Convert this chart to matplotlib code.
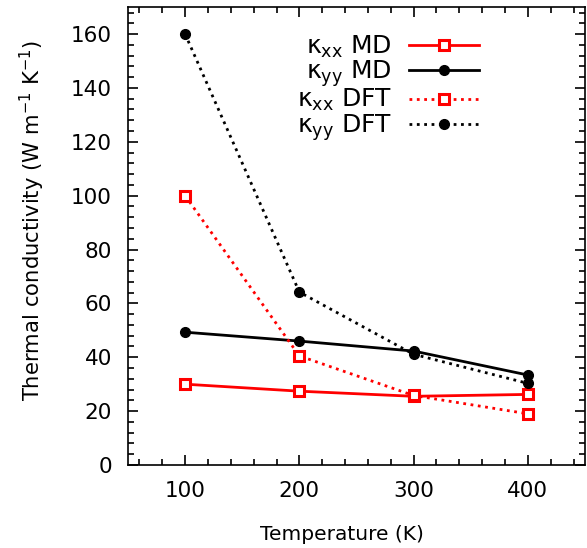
import matplotlib.pyplot as plt

plt.rcParams['font.family'] = 'DejaVu Sans'
plt.rcParams['font.size'] = 15.5

# data
temps = [100, 200, 300, 400]
kxx_md = [30.0, 27.4, 25.5, 26.2]
kyy_md = [49.3, 46.0, 42.3, 33.4]
kxx_dft = [100.0, 40.5, 25.8, 19.0]
kyy_dft = [160.0, 64.2, 41.1, 30.3]

fig = plt.figure(figsize=(5.87, 5.48), dpi=100)
ax = fig.add_axes([0.218, 0.1515, 0.7786, 0.8355])

sq = dict(marker='s', markersize=6.5, markerfacecolor='white', markeredgewidth=2.2)
ci = dict(marker='o', markersize=7)

ax.plot(temps, kxx_md, color='red', lw=2, label=r'κ$_{\mathregular{xx}}$ MD', **sq)
ax.plot(temps, kyy_md, color='black', lw=2, label=r'κ$_{\mathregular{yy}}$ MD', **ci)
ax.plot(temps, kxx_dft, color='red', lw=2, ls=':', label=r'κ$_{\mathregular{xx}}$ DFT', **sq)
ax.plot(temps, kyy_dft, color='black', lw=2, ls=':', label=r'κ$_{\mathregular{yy}}$ DFT', **ci)

ax.set_xlim(50, 450)
ax.set_ylim(0, 170)
ax.set_xticks([100, 200, 300, 400])
ax.set_yticks(range(0, 161, 20))
ax.set_xticks(range(60, 450, 20), minor=True)
ax.set_yticks(range(0, 170, 4), minor=True)
ax.tick_params(which='both', direction='in', top=True, right=True, width=1.2)
ax.tick_params(which='major', length=7, pad=11.5, labelsize=15.5)
ax.tick_params(which='minor', length=4)
for s in ax.spines.values():
    s.set_linewidth(1.2)

ax.set_xlabel('Temperature (K)', fontsize=14.5)
ax.xaxis.set_label_coords(0.468, -0.131)
ax.set_ylabel(r'Thermal conductivity (W m$^{\mathregular{-1}}$ K$^{\mathregular{-1}}$)',
              fontsize=15.2)
ax.yaxis.set_label_coords(-0.177, 0.535)

leg = ax.legend(loc='upper right', bbox_to_anchor=(0.796, 0.97), frameon=False,
                markerfirst=False, handlelength=2.8, labelspacing=-0.06,
                handletextpad=0.68, borderpad=0, fontsize=18)
for t in leg.get_texts():
    t.set_ha('right')

fig.savefig('out.png', dpi=100)
